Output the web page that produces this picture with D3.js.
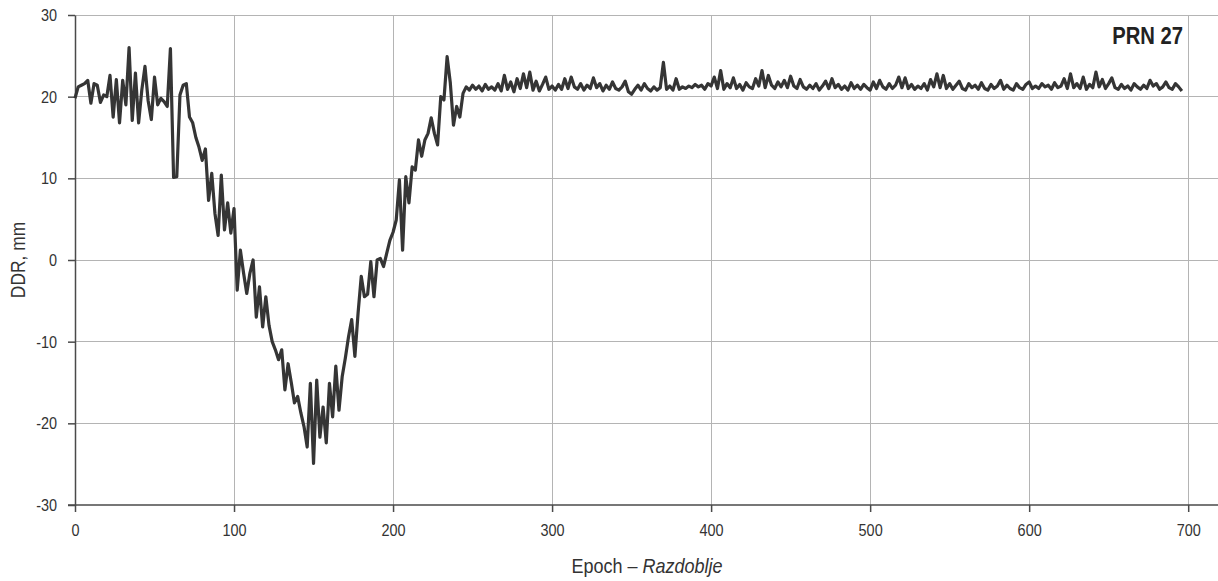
<!DOCTYPE html>
<html>
<head>
<meta charset="utf-8">
<script src="https://cdn.jsdelivr.net/npm/d3@7"></script>
<style>
  html, body { margin: 0; padding: 0; background: #fff; }
  svg { display: block; }
</style>
</head>
<body>
<svg id="chart" width="1218" height="581"></svg>
<script>
// ---- data ----
const epochStep = 2;
const epochStart = 0;
const ddrValues = [
  19.8, 21.2, 21.4, 21.6, 22.0, 19.2, 21.6, 21.4, 19.3, 20.2,
  20.0, 22.6, 17.5, 22.1, 16.8, 22.0, 19.0, 26.0, 17.1, 22.9,
  16.8, 20.8, 23.7, 19.5, 17.2, 22.4, 19.0, 19.8, 19.4, 18.8,
  25.9, 10.1, 10.2, 20.2, 21.4, 21.6, 17.5, 16.8, 15.0, 13.8,
  12.2, 13.6, 7.3, 10.6, 5.7, 3.0, 10.4, 3.7, 7.0, 3.3,
  6.3, -3.7, 1.2, -1.6, -4.1, -1.6, 0.0, -7.0, -3.3, -8.2,
  -4.5, -8.0, -10.0, -11.0, -12.2, -11.0, -15.9, -12.7, -15.0, -17.5,
  -16.7, -18.7, -20.4, -22.9, -15.1, -24.9, -14.7, -21.7, -18.0, -22.4,
  -15.1, -19.2, -13.0, -18.4, -14.3, -12.0, -9.4, -7.3, -11.8, -6.5,
  -2.0, -4.5, -4.2, -0.2, -4.5, 0.0, 0.2, -0.8, 0.8, 2.4,
  3.4, 4.9, 9.8, 1.2, 10.2, 7.0, 11.4, 11.0, 14.7, 12.7,
  14.7, 15.5, 17.4, 15.5, 14.1, 20.0, 19.6, 24.9, 21.7, 16.5,
  18.8, 17.5, 20.4,
  21.2, 20.8, 21.4, 20.9, 21.3, 20.7, 21.5, 20.9, 21.2, 20.8,
  21.6, 20.7, 22.6, 20.9, 21.8, 20.6, 22.2, 21.0, 22.8, 21.1,
  23.0, 20.8, 21.9, 20.7, 21.5, 22.4, 20.9, 21.3, 20.8, 21.5,
  20.9, 22.2, 21.0, 22.4, 21.2, 20.9, 21.6, 20.8, 21.4, 21.0,
  22.3, 21.1, 21.6, 20.7, 21.4, 20.9, 21.8, 21.0, 20.8, 21.2,
  21.9, 20.6, 20.3, 20.9, 21.4, 20.8, 21.6, 21.0, 20.7, 21.2,
  20.8, 21.1, 24.2, 20.9, 21.3, 20.8, 22.2, 20.9, 21.2, 21.0,
  21.3, 21.1, 21.5, 21.2, 21.4, 20.9, 21.6, 21.3, 22.4, 21.0,
  23.2, 20.9, 21.6, 21.1, 22.3, 21.0, 21.5, 20.8, 21.7, 21.2,
  21.0, 22.2, 21.3, 23.2, 21.1, 22.6, 21.4, 21.0, 21.8, 21.2,
  22.0, 21.1, 22.5, 21.3, 21.0, 22.1, 21.2, 20.9, 21.4, 21.0,
  21.6, 20.8, 21.3, 21.9, 21.0, 22.2, 21.1, 21.5, 20.9, 21.3,
  20.8, 21.7, 21.0, 21.4, 20.9, 21.5, 21.1, 20.8, 21.8, 21.0,
  22.0, 21.2, 20.9, 21.6, 21.0, 21.4, 22.4, 21.1, 22.3, 21.0,
  21.5, 20.9, 21.3, 21.0, 21.6, 20.8, 22.1, 21.2, 22.8, 21.1,
  22.6, 21.0, 21.6, 20.9, 21.4, 21.9, 21.0, 20.8, 21.6, 21.1,
  21.4, 20.9, 21.7, 21.0, 20.8, 21.5, 21.0, 21.3, 22.0, 20.9,
  21.4, 21.0, 20.8, 21.6, 21.1, 20.9, 21.5, 21.8, 21.0, 21.3,
  21.0, 21.6, 21.2, 21.4, 20.9, 21.7, 21.1, 21.3, 22.2, 21.0,
  22.8, 21.1, 21.6, 21.0, 22.4, 20.9, 21.5, 21.1, 23.0, 21.2,
  22.1, 21.0, 21.6, 22.3, 21.1, 20.9, 21.5, 21.0, 21.3, 20.8,
  21.6, 21.2, 20.9, 21.4, 21.0, 22.0, 21.3, 21.6, 20.9, 21.2,
  21.8, 21.1, 20.9, 21.6, 21.2, 20.7
];
const epochs = ddrValues.map((_, i) => epochStart + i * epochStep);
const xTicks = [0, 100, 200, 300, 400, 500, 600, 700];
const yTicks = [-30, -20, -10, 0, 10, 20, 30];
const xDomain = [0, 720];
const yDomain = [-30, 30];
const seriesLabel = "PRN 27";
const yTitle = "DDR, mm";
const xTitleMain = "Epoch \u2013 ";
const xTitleItalic = "Razdoblje";

// ---- layout ----
const svg = d3.select("#chart");
const mLeft = 75, mRight = 1220, mTop = 15, mBottom = 505, svgW = 1218;
const x = d3.scaleLinear().domain(xDomain).range([mLeft, mRight]);
const y = d3.scaleLinear().domain(yDomain).range([mBottom, mTop]);

const gridColor = "#b4b4b4";
const axisColor = "#4a4a4a";
const textColor = "#333";
const fontFam = "'Liberation Sans', Arial, sans-serif";
const narrow = 0.85;

// grid
svg.append("g").selectAll("line").data(yTicks.filter(d => d > yDomain[0]))
  .join("line")
  .attr("x1", mLeft).attr("x2", svgW)
  .attr("y1", d => y(d)).attr("y2", d => y(d))
  .attr("stroke", gridColor).attr("stroke-width", 1).attr("shape-rendering", "crispEdges");
svg.append("g").selectAll("line").data(xTicks.filter(d => d > xDomain[0]))
  .join("line")
  .attr("x1", d => x(d)).attr("x2", d => x(d))
  .attr("y1", mTop).attr("y2", mBottom)
  .attr("stroke", gridColor).attr("stroke-width", 1).attr("shape-rendering", "crispEdges");

// axes
const fmt = d => String(d);
const xAxis = d3.axisBottom(x).tickValues(xTicks).tickFormat(fmt).tickSize(7).tickPadding(12).tickSizeOuter(0);
const gx = svg.append("g").attr("transform", `translate(0,${mBottom})`).call(xAxis);
gx.select(".domain").attr("d", `M${mLeft - 7},0H${svgW}`).attr("stroke", axisColor).attr("stroke-width", 1.5);
const yAxis = d3.axisLeft(y).tickValues(yTicks).tickFormat(fmt).tickSize(7).tickPadding(11).tickSizeOuter(0);
const gy = svg.append("g").attr("transform", `translate(${mLeft},0)`).call(yAxis);
gy.select(".domain").attr("stroke", axisColor).attr("stroke-width", 1.5);
[gx, gy].forEach(g => {
  g.selectAll(".tick line").attr("stroke", axisColor).attr("stroke-width", 1.5);
  g.selectAll(".tick text").attr("fill", textColor)
    .style("font-size", "17px").style("font-family", fontFam)
    .attr("transform", `scale(${narrow},1)`);
});
gy.selectAll(".tick text").attr("x", -18 / narrow);

// line
const line = d3.line().x((d, i) => x(epochs[i])).y(d => y(d));
svg.append("path").datum(ddrValues)
  .attr("d", line)
  .attr("fill", "none")
  .attr("stroke", "#353535")
  .attr("stroke-width", 3.2)
  .attr("stroke-linejoin", "round");

// labels
svg.append("text")
  .attr("transform", `translate(1183,44) scale(0.88,1)`)
  .attr("text-anchor", "end")
  .style("font-family", fontFam)
  .style("font-weight", "bold").style("font-size", "23px")
  .attr("fill", "#222")
  .text(seriesLabel);

svg.append("text")
  .attr("transform", `translate(25,${(mTop + mBottom) / 2}) rotate(-90) scale(0.87,1)`)
  .attr("text-anchor", "middle")
  .style("font-family", fontFam)
  .style("font-size", "20px")
  .attr("fill", textColor)
  .text(yTitle);

const xt = svg.append("text")
  .attr("transform", `translate(647,573) scale(0.9,1)`)
  .attr("text-anchor", "middle")
  .style("font-family", fontFam)
  .style("font-size", "20px")
  .attr("fill", textColor);
xt.append("tspan").text(xTitleMain);
xt.append("tspan").style("font-style", "italic").text(xTitleItalic);
</script>
</body>
</html>
